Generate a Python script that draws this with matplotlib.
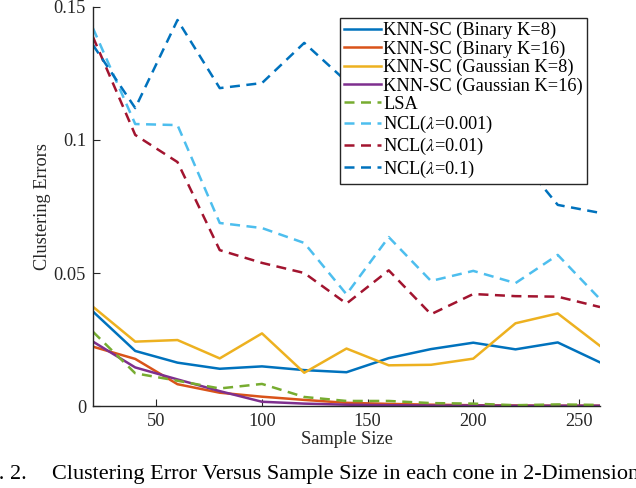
import matplotlib.pyplot as plt

plt.rcParams['font.family'] = ['Liberation Serif', 'DejaVu Serif']
plt.rcParams['mathtext.fontset'] = 'stix'

sizes = [20, 40, 60, 80, 100, 120, 140, 160, 180, 200, 220, 240, 260]

knn_bin8 = [0.0355, 0.0207, 0.0163, 0.0140, 0.0149, 0.0135, 0.0127, 0.0180, 0.0214, 0.0238, 0.0213, 0.0239, 0.0164]
knn_bin16 = [0.0223, 0.0177, 0.0082, 0.0050, 0.0035, 0.0023, 0.0012, 0.0008, 0.0005, 0.0003, 0.0002, 0.0001, 0.0001]
knn_gau8 = [0.0373, 0.0242, 0.0248, 0.0179, 0.0273, 0.0125, 0.0216, 0.0153, 0.0155, 0.0178, 0.0311, 0.0348, 0.0226]
knn_gau16 = [0.0242, 0.0145, 0.0100, 0.0056, 0.0016, 0.0009, 0.0005, 0.0003, 0.0002, 0.0002, 0.0001, 0.0001, 0.0001]
lsa = [0.0279, 0.0123, 0.0095, 0.0066, 0.0083, 0.0034, 0.0019, 0.0019, 0.0011, 0.0009, 0.0003, 0.0006, 0.0004]
ncl_001 = [0.1420, 0.1060, 0.1056, 0.0688, 0.0669, 0.0613, 0.0420, 0.0635, 0.0470, 0.0508, 0.0462, 0.0568, 0.0402]
ncl_01 = [0.1387, 0.1019, 0.0917, 0.0586, 0.0538, 0.0500, 0.0385, 0.0510, 0.0345, 0.0421, 0.0413, 0.0411, 0.0372]
ncl_1 = [0.1357, 0.1120, 0.1451, 0.1195, 0.1214, 0.1365, 0.1220, 0.1160, 0.1110, 0.1050, 0.0950, 0.0756, 0.0726]

fig = plt.figure(figsize=(6.36, 4.88), dpi=100)
ax = fig.add_axes([0.1462, 0.168, 0.7972, 0.8177])

fs = 13.2
lw = 1.8
dash = (4, 2.6)
ax.plot(sizes, knn_bin8, color='#0072BD', lw=lw, label='KNN-SC (Binary K=8)')
ax.plot(sizes, knn_bin16, color='#D95319', lw=lw, label='KNN-SC (Binary K=16)')
ax.plot(sizes, knn_gau8, color='#EDB120', lw=lw, label='KNN-SC (Gaussian K=8)')
ax.plot(sizes, knn_gau16, color='#7E2F8E', lw=lw, label='KNN-SC (Gaussian K=16)')
ax.plot(sizes, lsa, color='#77AC30', lw=lw, ls=(0, dash), label='LSA')
ax.plot(sizes, ncl_001, color='#4DBEEE', lw=lw, ls=(0, dash), label=r'NCL($\lambda$=0.001)')
ax.plot(sizes, ncl_01, color='#A2142F', lw=lw, ls=(0, dash), label=r'NCL($\lambda$=0.01)')
ax.plot(sizes, ncl_1, color='#0072BD', lw=lw, ls=(0, dash), label=r'NCL($\lambda$=0.1)')

ax.set_xlim(20, 260)
ax.set_ylim(0, 0.15)
ax.set_xticks([50, 100, 150, 200, 250])
ax.set_yticks([0, 0.05, 0.1, 0.15])
ax.set_yticklabels(['0', '0.05', '0.1', '0.15'])
for s in ['top', 'right']:
    ax.spines[s].set_visible(False)
for s in ['left', 'bottom']:
    ax.spines[s].set_color('#262626')
    ax.spines[s].set_linewidth(1.0)
ax.tick_params(direction='in', length=5, labelsize=fs, colors='#262626', pad=5)
ax.set_xlabel('Sample Size', fontsize=fs, color='#262626', labelpad=1)
ax.set_ylabel('Clustering Errors', fontsize=fs, color='#262626', labelpad=2)

leg = ax.legend(loc='upper right', bbox_to_anchor=(0.9745, 0.972), fontsize=fs,
                frameon=True, fancybox=False, edgecolor='#262626', framealpha=1,
                handlelength=2.0, handletextpad=0.15, labelspacing=0.06,
                borderpad=0.22, borderaxespad=0)
leg.get_frame().set_linewidth(1.0)

fig.text(27 / 636, 1 - 475 / 488, 'Fig. 2.', ha='right', va='center', fontsize=16)
fig.text(52 / 636, 1 - 475 / 488, 'Clustering Error Versus Sample Size in each cone in 2-Dimensional Space',
         ha='left', va='center', fontsize=16)

fig.savefig('out.png', dpi=100)
